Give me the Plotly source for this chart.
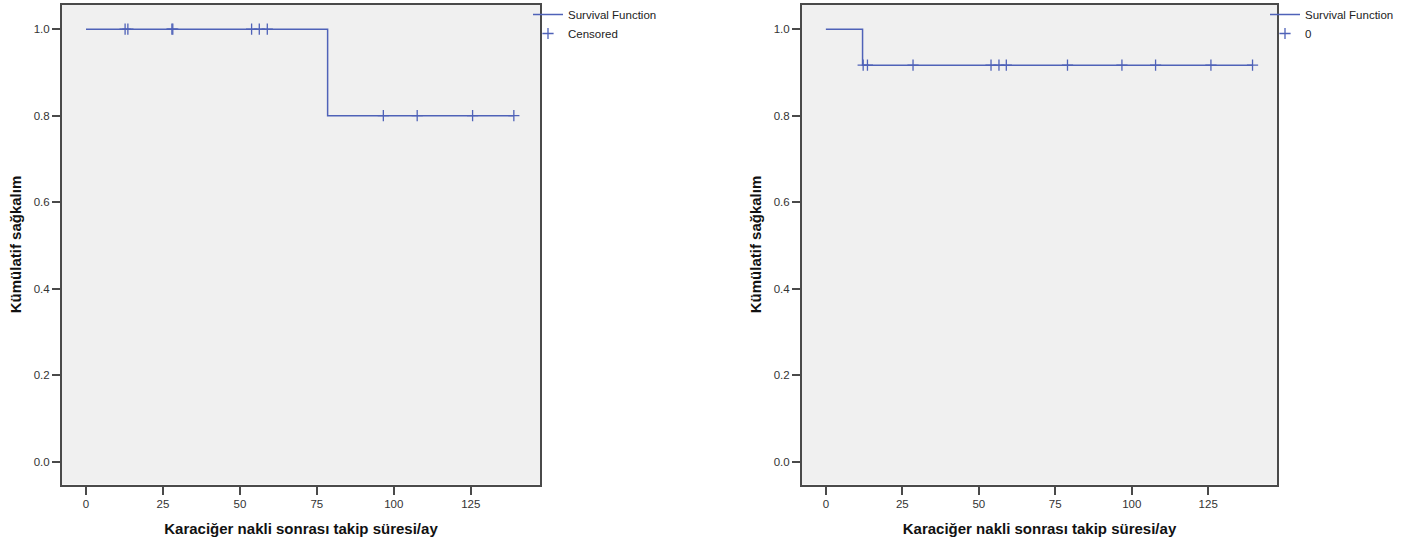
import numpy as np
import plotly.graph_objects as go

# ---- data (months, status: 1 = event, 0 = censored) ----
left_times = [12.7, 13.6, 27.9, 28.2, 53.8, 56.3, 58.9, 78.5, 96.6, 107.6, 125.6, 139.0]
left_status = [0, 0, 0, 0, 0, 0, 0, 1, 0, 0, 0, 0]

right_times = [12.0, 12.2, 13.6, 28.5, 54.0, 56.6, 59.0, 79.0, 96.8, 107.8, 125.9, 139.5]
right_status = [1, 0, 0, 0, 0, 0, 0, 0, 0, 0, 0, 0]

x_ticks = [0, 25, 50, 75, 100, 125]
y_ticks = [0.0, 0.2, 0.4, 0.6, 0.8, 1.0]
x_title = "Karaciğer nakli sonrası takip süresi/ay"
y_title = "Kümülatif sağkalım"
left_censor_label = "Censored"
right_censor_label = "0"

LINE = "#4F62B8"
FRAME = "#4A4A4A"
FONT = "Liberation Sans, Arial, sans-serif"


def kaplan_meier(times, status):
    t = np.asarray(times, float)
    s = np.asarray(status, int)
    order = np.argsort(t, kind="stable")
    t, s = t[order], s[order]
    n = len(t)
    surv = 1.0
    step_x, step_y = [0.0], [1.0]
    cens_x, cens_y = [], []
    for i, (ti, si) in enumerate(zip(t, s)):
        at_risk = n - i
        if si == 1:
            surv *= (at_risk - 1) / at_risk
            step_x.append(ti)
            step_y.append(surv)
        else:
            cens_x.append(ti)
            cens_y.append(surv)
    step_x.append(t.max())
    step_y.append(surv)
    return step_x, step_y, cens_x, cens_y


fig = go.Figure()

panels = [
    (left_times, left_status, left_censor_label, "x", "y", "legend"),
    (right_times, right_status, right_censor_label, "x2", "y2", "legend2"),
]
for times, status, clabel, xa, ya, lg in panels:
    sx, sy, cx, cy = kaplan_meier(times, status)
    fig.add_trace(go.Scatter(
        x=sx, y=sy, mode="lines", line=dict(color=LINE, width=1.5, shape="hv"),
        name="Survival Function", xaxis=xa, yaxis=ya, legend=lg, hoverinfo="skip"))
    fig.add_trace(go.Scatter(
        x=cx, y=cy, mode="markers",
        marker=dict(symbol="cross-thin", size=8, line=dict(color=LINE, width=1.3)),
        name=clabel, xaxis=xa, yaxis=ya, legend=lg, hoverinfo="skip"))

W, H = 1417, 542
top = 1 - 4.5 / H
bot = 1 - 484.5 / H

axis_common = dict(
    showline=True, mirror=True, linecolor=FRAME, linewidth=2, automargin=False,
    showgrid=False, zeroline=False, ticks="outside", ticklen=8, tickwidth=2,
    tickcolor=FRAME, tickfont=dict(family=FONT, size=11.5, color="#333333"),
)
title_font = dict(family=FONT, size=15, color="#111111")

xr = [-7.8, 147.5]
yr = [-0.053, 1.057]

fig.update_layout(
    width=W, height=H,
    margin=dict(l=0, r=0, t=0, b=0, autoexpand=False),
    paper_bgcolor="white",
    font=dict(family=FONT, color="#222222"),
    showlegend=True,
    xaxis=dict(domain=[62 / W, 540 / W], range=xr, tickvals=x_ticks, anchor="y",
               title=dict(text=f"<b>{x_title}</b>", standoff=14, font=title_font),
               **axis_common),
    yaxis=dict(domain=[bot, top], range=yr, tickvals=y_ticks, tickformat=".1f", anchor="x",
               title=dict(text=f"<b>{y_title}</b>", standoff=8, font=title_font),
               **axis_common),
    xaxis2=dict(domain=[802 / W, 1277 / W], range=xr, tickvals=x_ticks, anchor="y2",
                title=dict(text=f"<b>{x_title}</b>", standoff=14, font=title_font),
                **axis_common),
    yaxis2=dict(domain=[bot, top], range=yr, tickvals=y_ticks, tickformat=".1f", anchor="x2",
                title=dict(text=f"<b>{y_title}</b>", standoff=8, font=title_font),
                **axis_common),
    plot_bgcolor="#F0F0F0",
    legend=dict(x=528 / W, y=1 - 0 / H, xanchor="left", yanchor="top",
                bgcolor="rgba(0,0,0,0)", font=dict(family=FONT, size=11.5, color="#222222"),
                tracegroupgap=0, itemwidth=30),
    legend2=dict(x=1265 / W, y=1 - 0 / H, xanchor="left", yanchor="top",
                 bgcolor="rgba(0,0,0,0)", font=dict(family=FONT, size=11.5, color="#222222"),
                 tracegroupgap=0, itemwidth=30),
)

fig.write_html("out.html", config={"displayModeBar": False},
               post_script="document.body.style.margin='0';")
